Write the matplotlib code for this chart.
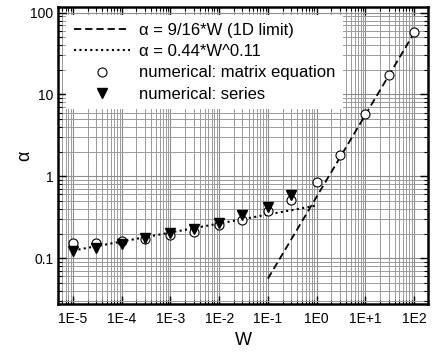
import matplotlib
matplotlib.use('Agg')
import matplotlib.pyplot as plt
from matplotlib.ticker import FixedLocator, FixedFormatter, LogLocator, NullFormatter
import numpy as np

plt.rcParams['font.family'] = ['Liberation Sans', 'DejaVu Sans']

# numerical results
w_matrix = [1e-5, 3e-5, 1e-4, 3e-4, 1e-3, 3e-3, 1e-2, 3e-2, 1e-1, 3e-1, 1, 3, 10, 30, 100]
a_matrix = [0.154, 0.153, 0.163, 0.170, 0.191, 0.210, 0.254, 0.292, 0.377, 0.515, 0.86,
            1.82, 5.7, 17.5, 58.0]
w_series = [1e-5, 3e-5, 1e-4, 3e-4, 1e-3, 3e-3, 1e-2, 3e-2, 1e-1, 3e-1]
a_series = [0.121, 0.135, 0.151, 0.175, 0.201, 0.227, 0.271, 0.337, 0.426, 0.593]

# analytic limits
w_1d = [0.1, 100]
w_fit = [1e-5, 1]

x_ticks = [1e-5, 1e-4, 1e-3, 1e-2, 1e-1, 1, 10, 100]
x_labels = ['1E-5', '1E-4', '1E-3', '1E-2', '1E-1', '1E0', '1E+1', '1E2']
y_ticks = [0.1, 1, 10, 100]
y_labels = ['0.1', '1', '10', '100']

fig = plt.figure(figsize=(4.36, 3.63), dpi=100)
ax = fig.add_axes([0.133, 0.1625, 0.849, 0.8185])

ax.set_xscale('log')
ax.set_yscale('log')
ax.set_xlim(10**-5.31, 10**2.29)
ax.set_ylim(10**-1.56, 10**2.07)

ax.plot(w_1d, [9 / 16 * w for w in w_1d], color='black', linestyle=(0, (4, 2.2)),
        linewidth=1.3, label='α = 9/16*W (1D limit)', zorder=3)
wf = np.logspace(np.log10(w_fit[0]), np.log10(w_fit[1]), 50)
ax.plot(wf, 0.44 * wf ** 0.11, color='black', linestyle=(0, (1, 1.6)),
        linewidth=1.5, label='α = 0.44*W^0.11', zorder=3)
ax.plot(w_matrix, a_matrix, 'o', markerfacecolor='white', markeredgecolor='black',
        markersize=6.5, markeredgewidth=0.8, label='numerical: matrix equation', zorder=4)
ax.plot(w_series, a_series, 'v', color='black', markersize=6.5,
        label='numerical: series', zorder=5)

ax.xaxis.set_major_locator(FixedLocator(x_ticks))
ax.xaxis.set_major_formatter(FixedFormatter(x_labels))
ax.yaxis.set_major_locator(FixedLocator(y_ticks))
ax.yaxis.set_major_formatter(FixedFormatter(y_labels))
ax.xaxis.set_minor_locator(LogLocator(base=10, subs=np.arange(2, 10), numticks=20))
ax.yaxis.set_minor_locator(LogLocator(base=10, subs=np.arange(2, 10), numticks=20))
ax.xaxis.set_minor_formatter(NullFormatter())
ax.yaxis.set_minor_formatter(NullFormatter())

ax.grid(True, which='major', color='#8c8c8c', linewidth=0.8)
ax.grid(True, which='minor', color='#9a9a9a', linewidth=0.7)
ax.set_axisbelow(True)

ax.tick_params(which='both', direction='in', top=True, right=True, labelsize=10)
ax.tick_params(axis='x', which='major', pad=6)
ax.tick_params(which='major', length=6, width=1)
ax.tick_params(which='minor', length=3, width=0.8)
for s in ax.spines.values():
    s.set_linewidth(1.8)

ax.set_xlabel('W', fontsize=13, labelpad=4)
ax.set_ylabel('α', fontsize=13, labelpad=-2)

leg = ax.legend(loc='upper left', fontsize=12, frameon=True, fancybox=False,
                edgecolor='none', framealpha=1, handlelength=3.4, labelspacing=0.38,
                borderaxespad=0.5, handletextpad=0.5, borderpad=0.45)

plt.savefig('out.png', dpi=100)
